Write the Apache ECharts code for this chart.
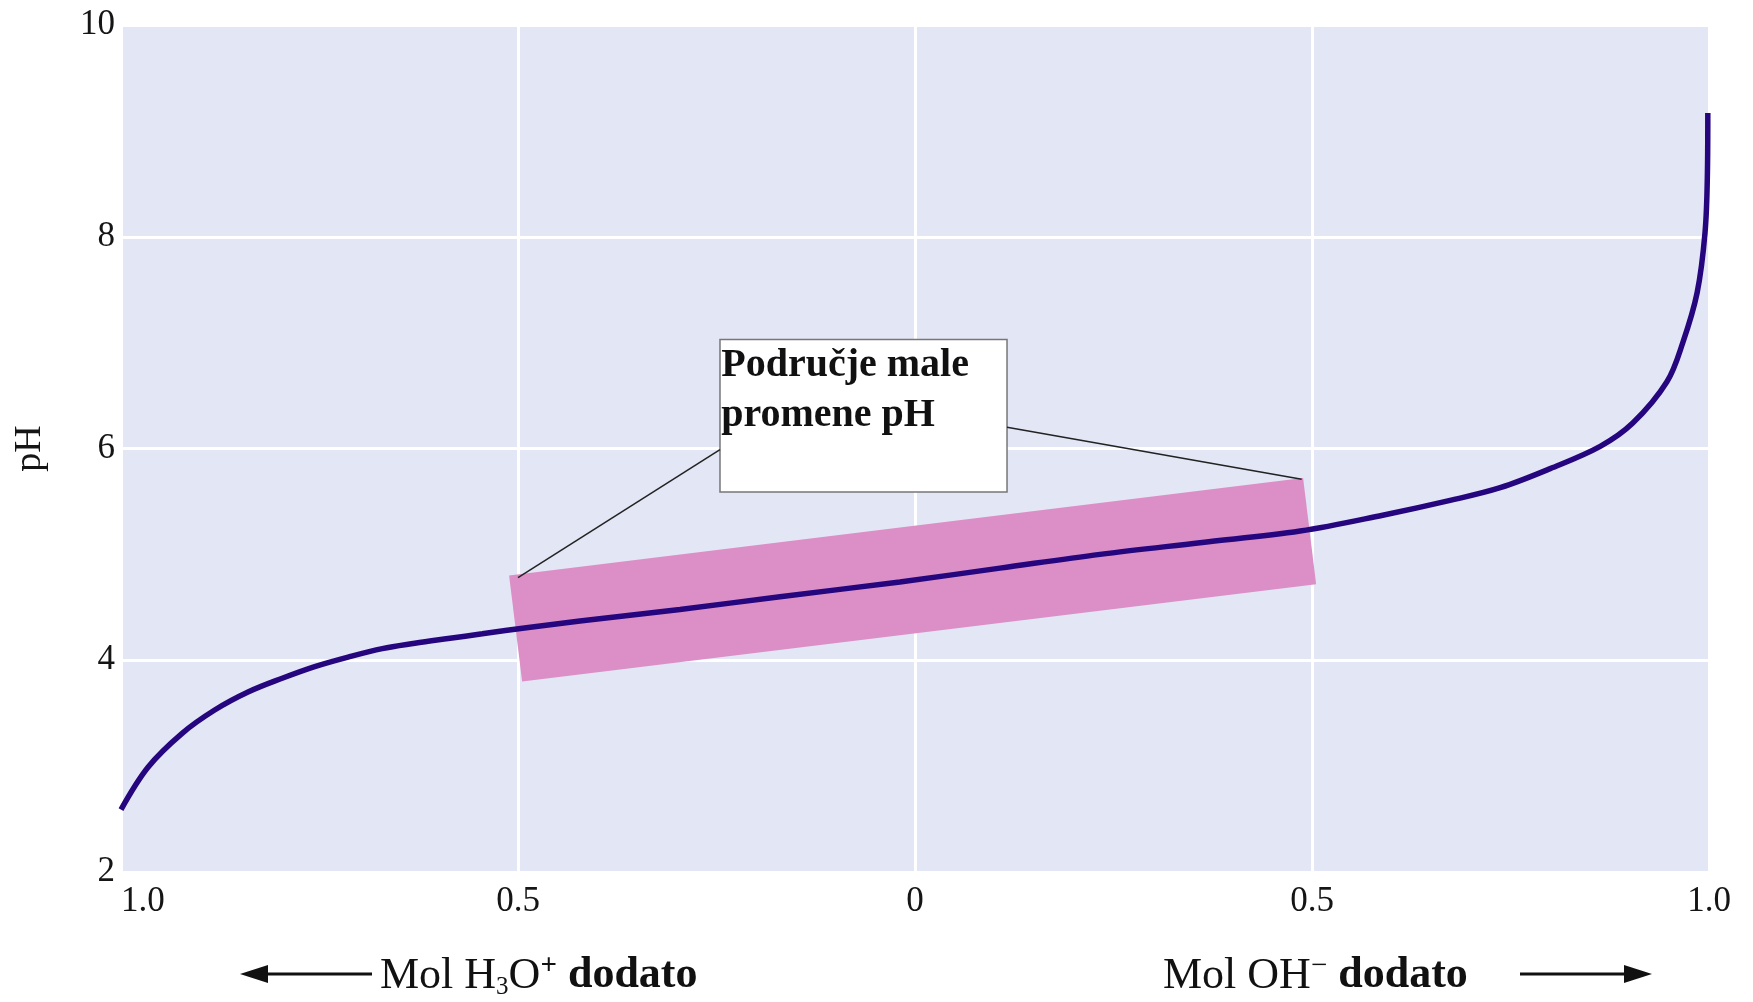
<!DOCTYPE html>
<html>
<head>
<meta charset="utf-8">
<title>Pufer - promena pH</title>
<script src="https://cdn.jsdelivr.net/npm/echarts@6/dist/echarts.min.js"></script>
<style>
  html, body { margin: 0; padding: 0; background: #ffffff; }
  #chart { width: 1753px; height: 1002px; }
</style>
</head>
<body>
<div id="chart"></div>
<script>
// mol dodato: negativno = H3O+, pozitivno = OH-
const molDodato = [-1, -0.966, -0.923, -0.882, -0.84, -0.797, -0.756, -0.714, -0.671, -0.63,
  -0.588, -0.545, -0.487, -0.422, -0.296, -0.17, -0.019, 0.107, 0.233, 0.359,
  0.485, 0.589, 0.674, 0.737, 0.8, 0.863, 0.904, 0.947, 0.967, 0.985,
  0.995, 0.998, 0.9985];
const pHValues = [2.59, 2.99, 3.31, 3.53, 3.70, 3.83, 3.94, 4.03, 4.11, 4.16,
  4.205, 4.25, 4.31, 4.37, 4.48, 4.60, 4.74, 4.87, 5.00, 5.11,
  5.22, 5.37, 5.51, 5.63, 5.81, 6.02, 6.24, 6.63, 7.00, 7.47,
  8.04, 8.60, 9.17];

// podrucje male promene pH (ruzicasta traka)
const bandMol = [-0.503, 0.497];
const bandPH = [4.30, 5.22];

// okvir sa tekstom i linije do trake
const boxMol = [-0.2456, 0.1159];
const boxPH = [7.03, 5.59];
const leaderLeftMol = [-0.2456, -0.5];
const leaderLeftPH = [5.99, 4.78];
const leaderRightMol = [0.1159, 0.487];
const leaderRightPH = [6.20, 5.71];

const xTickValues = [-1, -0.5, 0, 0.5, 1];
const xTickLabels = ['1.0', '0.5', '0', '0.5', '1.0'];
const yTickLabels = ['2', '4', '6', '8', '10'];

const serif = '"Liberation Serif", "Times New Roman", serif';
const pairs = (xs, ys) => xs.map((x, i) => [x, ys[i]]);

const chart = echarts.init(document.getElementById('chart'));

const option = {
  backgroundColor: '#ffffff',
  animation: false,
  grid: {
    left: 121,
    right: 44,
    top: 25,
    bottom: 130,
    show: true,
    backgroundColor: '#e3e6f5',
    borderWidth: 0,
    outerBoundsMode: 'none'
  },
  xAxis: {
    type: 'value',
    min: -1,
    max: 1,
    interval: 0.5,
    axisLine: { show: false },
    axisTick: { show: false },
    splitLine: { lineStyle: { color: '#ffffff', width: 3 } },
    axisLabel: {
      margin: 12,
      fontSize: 35,
      fontFamily: serif,
      color: '#151515',
      alignMinLabel: 'left',
      formatter: (v) => {
        const i = xTickValues.findIndex(t => Math.abs(t - v) < 1e-9);
        return i >= 0 ? xTickLabels[i] : '';
      }
    }
  },
  yAxis: {
    type: 'value',
    min: 2,
    max: 10,
    interval: 2,
    name: 'pH',
    nameLocation: 'middle',
    nameGap: 72,
    nameTextStyle: { fontSize: 38, fontFamily: serif, color: '#151515' },
    axisLine: { show: false },
    axisTick: { show: false },
    splitLine: { lineStyle: { color: '#ffffff', width: 3 } },
    axisLabel: {
      margin: 6,
      fontSize: 35,
      fontFamily: serif,
      color: '#151515',
      formatter: (v) => yTickLabels[(v - 2) / 2] || ''
    }
  },
  series: [
    {
      name: 'traka',
      type: 'line',
      data: pairs(bandMol, bandPH),
      symbol: 'none',
      silent: true,
      lineStyle: { color: '#db8fc6', width: 107, cap: 'butt' },
      z: 2
    },
    {
      name: 'pH',
      type: 'line',
      data: pairs(molDodato, pHValues),
      symbol: 'none',
      smooth: 0.35,
      lineStyle: { color: '#26067f', width: 5.5 },
      z: 3
    },
    {
      name: 'okvir',
      type: 'line',
      data: pairs(leaderLeftMol, leaderLeftPH),
      symbol: 'none',
      silent: true,
      lineStyle: { color: '#222222', width: 1.5 },
      z: 4,
      markArea: {
        silent: true,
        itemStyle: { color: '#ffffff', borderColor: '#777777', borderWidth: 1.5 },
        label: {
          show: true,
          position: 'insideTopLeft',
          distance: 2,
          formatter: 'Područje male\npromene pH',
          fontSize: 40,
          lineHeight: 50,
          fontWeight: 'bold',
          fontFamily: serif,
          color: '#111111'
        },
        data: [[
          { coord: [boxMol[0], boxPH[0]] },
          { coord: [boxMol[1], boxPH[1]] }
        ]]
      }
    },
    {
      name: 'linija',
      type: 'line',
      data: pairs(leaderRightMol, leaderRightPH),
      symbol: 'none',
      silent: true,
      lineStyle: { color: '#222222', width: 1.5 },
      z: 4
    }
  ],
  graphic: [
    {
      type: 'line',
      shape: { x1: 372, y1: 974, x2: 262, y2: 974 },
      style: { stroke: '#111111', lineWidth: 3 }
    },
    {
      type: 'polygon',
      shape: { points: [[240, 974], [268, 965], [268, 983]] },
      style: { fill: '#111111' }
    },
    {
      type: 'text',
      x: 380,
      y: 976,
      style: {
        text: '{r|Mol H}{sub|3}{r|O}{sup|+}{b| dodato}',
        align: 'left',
        verticalAlign: 'middle',
        fill: '#111111',
        rich: {
          r: { fontSize: 44, fontFamily: serif, lineHeight: 48 },
          sub: { fontSize: 25, fontFamily: serif, verticalAlign: 'bottom' },
          sup: { fontSize: 29, fontFamily: serif, fontWeight: 'bold', verticalAlign: 'top' },
          b: { fontSize: 44, fontFamily: serif, fontWeight: 'bold', lineHeight: 48 }
        }
      }
    },
    {
      type: 'text',
      x: 1163,
      y: 976,
      style: {
        text: '{r|Mol OH}{sup|−}{b| dodato}',
        align: 'left',
        verticalAlign: 'middle',
        fill: '#111111',
        rich: {
          r: { fontSize: 44, fontFamily: serif, lineHeight: 48 },
          sup: { fontSize: 29, fontFamily: serif, verticalAlign: 'top' },
          b: { fontSize: 44, fontFamily: serif, fontWeight: 'bold', lineHeight: 48 }
        }
      }
    },
    {
      type: 'line',
      shape: { x1: 1520, y1: 974, x2: 1630, y2: 974 },
      style: { stroke: '#111111', lineWidth: 3 }
    },
    {
      type: 'polygon',
      shape: { points: [[1652, 974], [1624, 965], [1624, 983]] },
      style: { fill: '#111111' }
    }
  ]
};

chart.setOption(option);

window.addEventListener('resize', () => chart.resize());
</script>
</body>
</html>
